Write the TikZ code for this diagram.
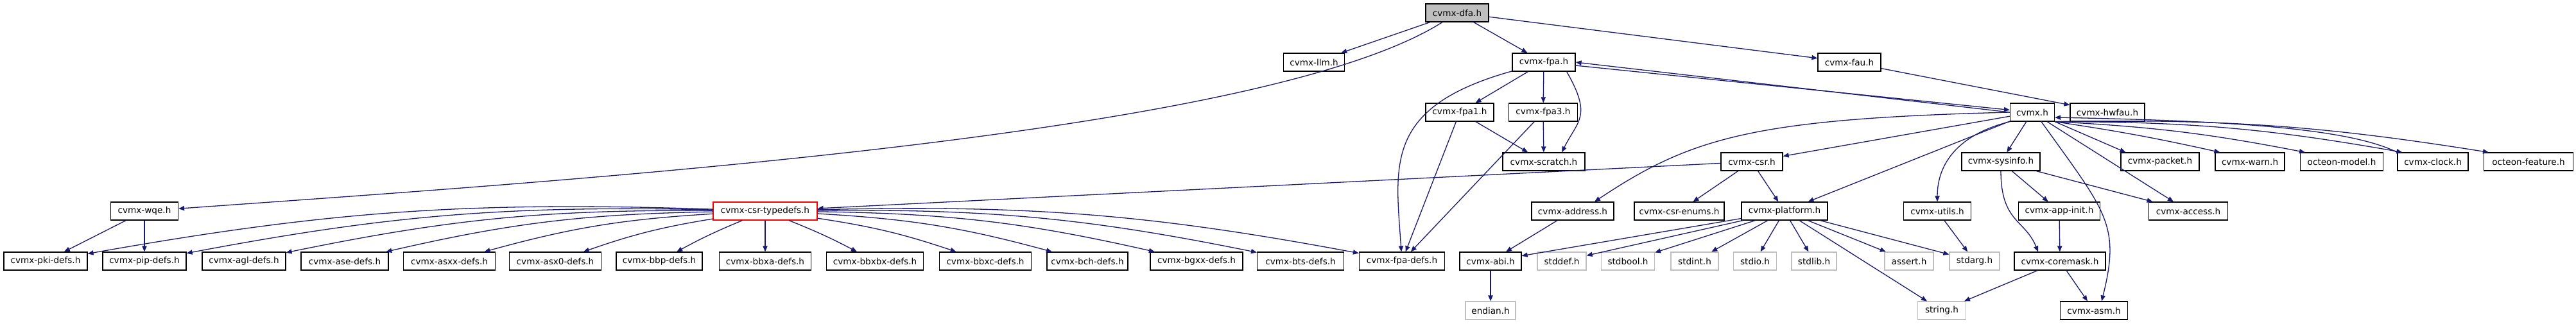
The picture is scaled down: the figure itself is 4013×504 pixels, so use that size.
\documentclass[tikz,border=0pt]{standalone}
\usepackage{fontspec}
\setmainfont{DejaVu Sans}
\definecolor{edgeblue}{RGB}{25,25,112}
\definecolor{sysgray}{RGB}{191,191,191}
\usetikzlibrary{arrows.meta}

\begin{document}
\begin{tikzpicture}[x=0.5pt,y=0.5pt,
  file/.style={draw=black, fill=white, line width=0.6pt, minimum height=14pt, inner sep=0pt, font=\fontsize{6.8}{8}\selectfont},
  sysfile/.style={file, draw=sysgray},
  rootfile/.style={file, fill=sysgray},
  cutfile/.style={file, draw=red},
  dep/.style={draw=edgeblue, line width=0.65pt, -{Triangle[length=4.5pt,width=3.6pt]}}]
  \fill[white] (0,0) rectangle (4013,-504);

  \node[rootfile, minimum width=49pt] (dfa) at (2270,-20) {cvmx-dfa.h};
  \foreach \n/\x/\w/\t in {llm/2047/95/cvmx-llm.h, fpa/2405/98/cvmx-fpa.h, fau/2881/98/cvmx-fau.h}
    \node[file, minimum width=\w*0.5pt] (\n) at (\x,-97) {\t};
  \foreach \n/\x/\w/\t in {fpaone/2274/106/cvmx-fpa1.h, fpathree/2404/107/cvmx-fpa3.h,
      cvmx/3166/69/cvmx.h, hwfau/3283/116/cvmx-hwfau.h}
    \node[file, minimum width=\w*0.5pt] (\n) at (\x,-175) {\t};
  \foreach \n/\x/\w/\t in {scratch/2405/128/cvmx-scratch.h, csr/2729/96/cvmx-csr.h,
      sysinfo/3117/122/cvmx-sysinfo.h, packet/3365/122/cvmx-packet.h, warn/3505/108/cvmx-warn.h,
      model/3648/129/octeon-model.h, clock/3790/110/cvmx-clock.h, feature/3939/139/octeon-feature.h}
    \node[file, minimum width=\w*0.5pt] (\n) at (\x,-252) {\t};
  \node[cutfile, minimum width=81pt] (typedefs) at (1192,-329) {cvmx-csr-typedefs.h};
  \foreach \n/\x/\w/\t in {wqe/225/105/cvmx-wqe.h, address/2450/128/cvmx-address.h,
      enums/2616/140/cvmx-csr-enums.h, platform/2780/134/cvmx-platform.h, utils/3018/105/cvmx-utils.h,
      appinit/3208/127/cvmx-app-init.h, access/3409/123/cvmx-access.h}
    \node[file, minimum width=\w*0.5pt] (\n) at (\x,-329) {\t};
  \foreach \n/\x/\w/\t in {pki/71/130/cvmx-pki-defs.h, pip/225/130/cvmx-pip-defs.h,
      agl/380/130/cvmx-agl-defs.h, ase/537/136/cvmx-ase-defs.h, asxx/700/143/cvmx-asxx-defs.h,
      asxzero/865/143/cvmx-asx0-defs.h, bbp/1027/134/cvmx-bbp-defs.h, bbxa/1192/143/cvmx-bbxa-defs.h,
      bbxbx/1363/151/cvmx-bbxbx-defs.h, bbxc/1535/143/cvmx-bbxc-defs.h, bch/1694/126/cvmx-bch-defs.h,
      bgxx/1864/144/cvmx-bgxx-defs.h, bts/2026/135/cvmx-bts-defs.h, fpadefs/2184/133/cvmx-fpa-defs.h,
      abi/2322/96/cvmx-abi.h, coremask/3209/142/cvmx-coremask.h}
    \node[file, minimum width=\w*0.5pt] (\n) at (\x,-407) {\t};
  \foreach \n/\x/\w/\t in {stddef/2433/76/stddef.h, stdbool/2536/83/stdbool.h, stdint/2640/74/stdint.h,
      stdio/2734/67/stdio.h, stdlib/2826/70/stdlib.h, assert/2974/76/assert.h, stdarg/3076/78/stdarg.h}
    \node[sysfile, minimum width=\w*0.5pt] (\n) at (\x,-407) {\t};
  \node[file, minimum width=52.5pt] (asm) at (3262,-484) {cvmx-asm.h};
  \foreach \n/\x/\w/\t in {endian/2322/78/endian.h, string/3025/75/string.h}
    \node[sysfile, minimum width=\w*0.5pt] (\n) at (\x,-484) {\t};

  \foreach \a/\b in {dfa/llm, dfa/fpa, dfa/fau, fpa/fpaone, fpa/fpathree, fau/hwfau,
      fpaone/scratch, fpathree/scratch, fpaone/fpadefs, fpathree/fpadefs, fpa/cvmx,
      cvmx/csr, cvmx/platform, cvmx/sysinfo, cvmx/access, csr/typedefs, csr/enums, csr/platform,
      sysinfo/appinit, sysinfo/access, appinit/coremask, coremask/string, coremask/asm,
      utils/stdarg, address/abi, abi/endian, wqe/pki, wqe/pip}
    \draw[dep] (\a) -- (\b);
  \draw[dep] (cvmx.west) -- (fpa.east);
  \foreach \b/\k in {packet/0, warn/2, model/4, clock/5, feature/5}
    \draw[dep] (cvmx.south east) to[bend left=\k] ([xshift=4pt]\b.north west);
  \foreach \b in {abi, stddef, stdbool, stdint, stdio, stdlib, string, assert, stdarg}
    \draw[dep] (platform) -- (\b);
  \foreach \b/\k in {pki/6, pip/6, agl/6, ase/6, asxx/6, asxzero/5, bbp/3, bbxa/0,
      bbxbx/-3, bbxc/-5, bch/-6, bgxx/-6, bts/-6, fpadefs/-6}
    \draw[dep] (typedefs) to[bend right=\k] (\b);

  \draw[dep] (dfa) .. controls +(-300,-190) and +(700,50) .. (wqe);
  \draw[dep] (fpa) .. controls +(-250,-70) and +(-10,150) .. (fpadefs);
  \draw[dep] ([xshift=-7pt]fpa.south east) .. controls +(40,-70) and +(25,50) .. ([xshift=14pt]scratch.north);
  \draw[dep] (cvmx.west) .. controls +(-400,-10) and +(150,100) .. ([xshift=17pt]address.north);
  \draw[dep] (cvmx.south west) .. controls +(-80,-20) and +(0,60) .. (utils.north);
  \draw[dep] ([xshift=7pt]cvmx.south) .. controls +(100,-140) and +(30,120) .. ([xshift=6pt]asm.north);
  \draw[dep] (sysinfo.south) .. controls +(0,-80) and +(-20,50) .. ([xshift=-17pt]coremask.north);
  \draw[dep] (clock.north west) .. controls +(-80,40) and +(250,-5) .. ([yshift=-4pt]cvmx.east);
\end{tikzpicture}
\end{document}
